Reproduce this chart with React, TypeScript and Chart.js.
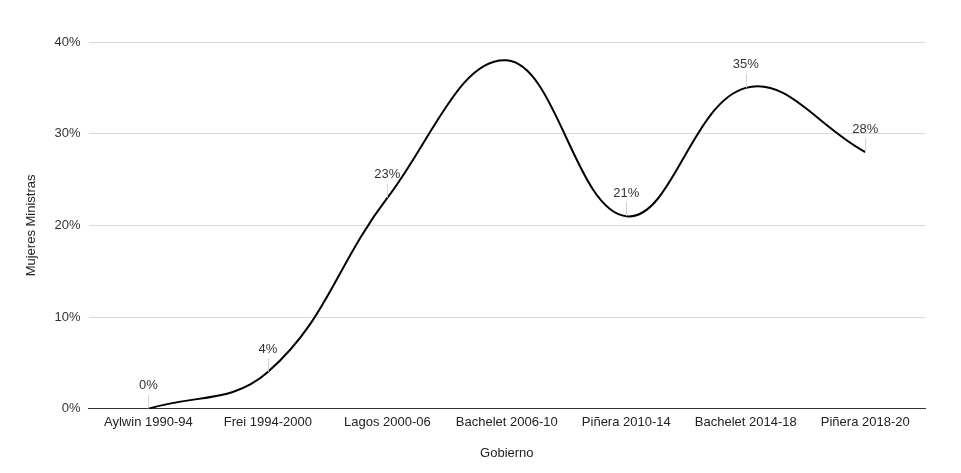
import React, { useEffect, useRef } from "react";
import { Chart, registerables } from "chart.js";

Chart.register(...registerables);

const categories = [
  "Aylwin 1990-94",
  "Frei 1994-2000",
  "Lagos 2000-06",
  "Bachelet 2006-10",
  "Piñera 2010-14",
  "Bachelet 2014-18",
  "Piñera 2018-20",
];
const values = [0, 4, 23, 38, 21, 35, 28];
const pointLabels: (string | null)[] = ["0%", "4%", "23%", null, "21%", "35%", "28%"];
const yTicks = [0, 10, 20, 30, 40];

const FONT = "'Liberation Sans', Arial, sans-serif";

const labelPlugin = {
  id: "pointLabels",
  afterDatasetsDraw(chart: any) {
    const ctx = chart.ctx;
    const meta = chart.getDatasetMeta(0);
    ctx.save();
    meta.data.forEach((pt: any, i: number) => {
      const txt = pointLabels[i];
      if (!txt) return;
      const x = pt.x;
      const y = pt.y;
      ctx.strokeStyle = "rgba(200,200,200,0.8)";
      ctx.lineWidth = 1;
      ctx.beginPath();
      ctx.moveTo(Math.round(x) + 0.5, y);
      ctx.lineTo(Math.round(x) + 0.5, y - 14);
      ctx.stroke();
      ctx.fillStyle = "#333333";
      ctx.font = `13px ${FONT}`;
      ctx.textAlign = "center";
      ctx.textBaseline = "middle";
      ctx.fillText(txt, x, y - 23);
    });
    ctx.restore();
  },
};

export default function App() {
  const ref = useRef<HTMLCanvasElement | null>(null);
  useEffect(() => {
    document.body.style.margin = "0";
    if (!ref.current) return;
    const chart = new Chart(ref.current, {
      type: "line",
      data: {
        labels: categories,
        datasets: [
          {
            data: values,
            borderColor: "#000000",
            borderWidth: 2,
            tension: 0.4,
            pointRadius: 0,
            fill: false,
          },
        ],
      },
      options: {
        animation: false,
        responsive: false,
        maintainAspectRatio: false,
        layout: { padding: { left: 24, right: 36, top: 42, bottom: 12 } },
        plugins: { legend: { display: false }, tooltip: { enabled: false } },
        scales: {
          x: {
            offset: true,
            grid: { display: false, drawTicks: false },
            border: { display: true, color: "#333333", width: 1 },
            ticks: {
              color: "#222222",
              font: { family: FONT, size: 13 },
              padding: 6,
              maxRotation: 0,
              autoSkip: false,
            },
            title: {
              display: true,
              text: "Gobierno",
              color: "#222222",
              font: { family: FONT, size: 13 },
              padding: { top: 9, bottom: 0 },
            },
          },
          y: {
            min: 0,
            max: 40,
            afterBuildTicks: (axis: any) => {
              axis.ticks = yTicks.map((v) => ({ value: v }));
            },
            grid: {
              color: (c: any) => (c.tick && c.tick.value === 0 ? "rgba(0,0,0,0)" : "#d9d9d9"),
              drawTicks: false,
            },
            border: { display: false },
            ticks: {
              color: "#333333",
              font: { family: FONT, size: 13 },
              padding: 8,
              callback: (v: any) => `${v}%`,
            },
            title: {
              display: true,
              text: "Mujeres Ministras",
              color: "#222222",
              font: { family: FONT, size: 13 },
              padding: { top: 0, bottom: 7 },
            },
          },
        },
      },
      plugins: [labelPlugin],
    });
    return () => chart.destroy();
  }, []);
  return (
    <div style={{ width: 961, height: 473 }}>
      <canvas ref={ref} width={961} height={473} style={{ display: "block" }} />
    </div>
  );
}
